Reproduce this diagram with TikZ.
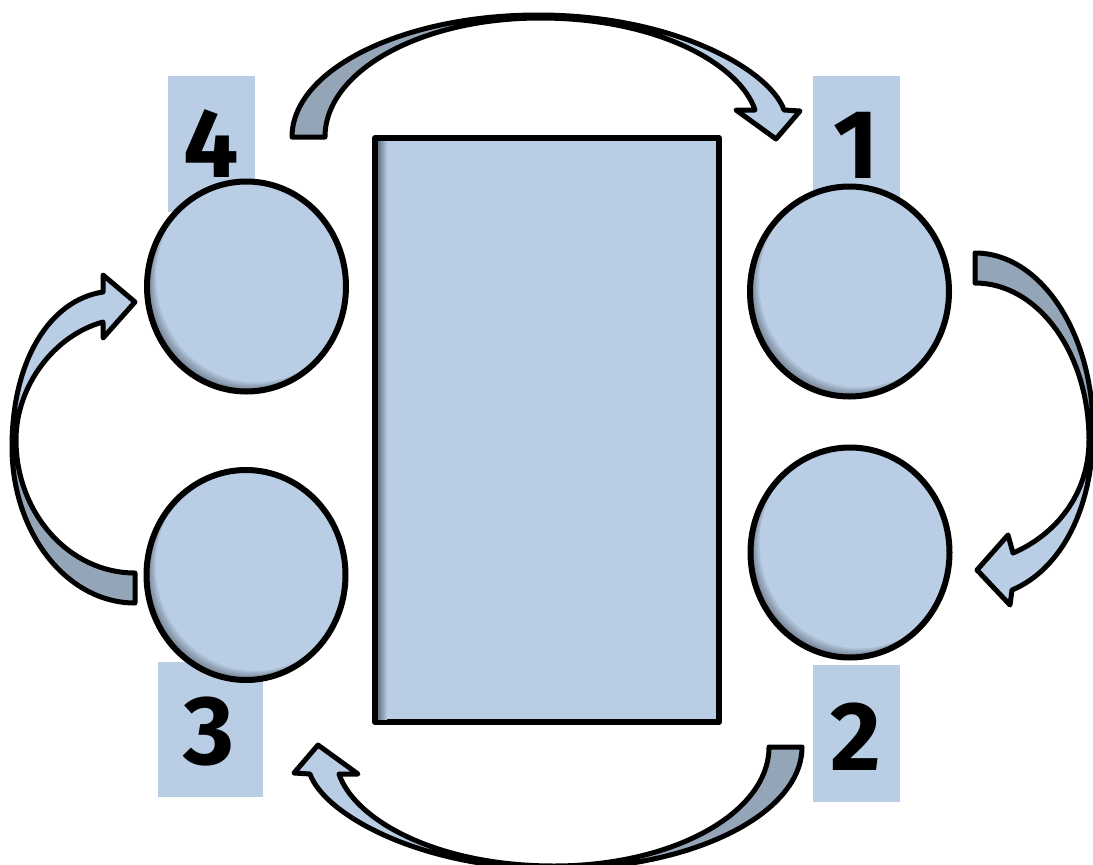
\documentclass[tikz,border=0pt]{standalone}
\usepackage{fontspec}
\setmainfont{Fira Sans}
\usetikzlibrary{shapes.geometric}

\definecolor{seatblue}{RGB}{185,205,229}
\definecolor{bandgrey}{RGB}{149,165,184}

\begin{document}
\begin{tikzpicture}[
    x=1pt,y=-1pt,
    line join=round,
    seat/.style={ellipse,draw,line width=6pt,fill=seatblue,
        minimum width=199pt,minimum height=210pt,inner sep=0pt},
    numbox/.style={fill=seatblue,inner sep=0pt,
        minimum width=87pt,minimum height=136pt},
    num/.style={font=\fontsize{98}{98}\selectfont\bfseries,inner sep=0pt},
    band/.style={draw,line width=5pt},
]
    \useasboundingbox (0,0) rectangle (1093,865);

    % tags behind the seats
    \node[numbox] (b4) at (211.5,144) {};
    \node[numbox] (b1) at (856.5,144) {};
    \node[numbox,minimum width=105pt,minimum height=135pt] (b3) at (210.5,729.5) {};
    \node[numbox,minimum height=137pt] (b2) at (856.5,733.5) {};
    \foreach \n/\x/\y in {4/211/144,1/856/145,3/209/732,2/856/737}
        \node[num] (n\n) at (\x,\y) {\n};

    % table
    \node[draw,line width=6pt,fill=seatblue,outer sep=0pt,
        minimum width=344pt,minimum height=584pt] (table) at (547,430) {};
    \shade[left color=bandgrey!70!black,right color=seatblue]
        ([xshift=3pt,yshift=-3pt]table.north west)
        rectangle ([xshift=12pt,yshift=3pt]table.south west);

    % seats
    \node[seat] (s4) at (246.5,286.5) {};
    \node[seat] (s1) at (849.5,291.5) {};
    \node[seat] (s3) at (246,575) {};
    \node[seat] (s2) at (850,552.5) {};
    \foreach \s in {s1,s2,s3,s4}{
        \begin{scope}
            \clip (\s.center) ellipse [x radius=99.5pt,y radius=105pt];
            \foreach \k in {1,...,6}
                \fill[black,opacity=.07,even odd rule]
                    (\s.center) ellipse [x radius=99.5pt,y radius=105pt]
                    ([shift={(1.5*\k,-1.5*\k)}]\s.center)
                    ellipse [x radius=99.5pt,y radius=105pt];
        \end{scope}
    }

    % arrows over and under the table
    \foreach \turn in {0,180}{
        \begin{scope}[rotate around={\turn:(547,442)}]
            \fill[bandgrey] (292,137) .. controls (292,70) and (402,15) .. (538,15)
                -- (540,18) .. controls (421,18) and (325,71) .. (325,137) -- cycle;
            \fill[seatblue] (538,15) .. controls (674,15) and (770,70) .. (784,110)
                -- (800,111) -- (776,139) -- (736,110) -- (755,110)
                .. controls (740,65) and (659,18) .. (540,18) -- cycle;
            \path[band] (292,137) .. controls (292,70) and (402,15) .. (538,15)
                .. controls (674,15) and (770,70) .. (784,110)
                -- (800,111) -- (776,139) -- (736,110) -- (755,110)
                .. controls (740,65) and (659,18) .. (540,18)
                .. controls (421,18) and (325,71) .. (325,137) -- cycle;
        \end{scope}
    }

    % right arrow
    \fill[bandgrey] (975,253) .. controls (1040,253) and (1093,332) .. (1093,430)
        -- (1089,440) .. controls (1089,353) and (1038,283) .. (975,283) -- cycle;
    \fill[seatblue] (1093,430) .. controls (1093,510) and (1060,570) .. (1012,590)
        -- (1010,605) -- (977,570) -- (1008,535) -- (1013,553)
        .. controls (1055,535) and (1089,495) .. (1089,440) -- cycle;
    \path[band] (975,253) .. controls (1040,253) and (1093,332) .. (1093,430)
        .. controls (1093,510) and (1060,570) .. (1012,590)
        -- (1010,605) -- (977,570) -- (1008,535) -- (1013,553)
        .. controls (1055,535) and (1089,495) .. (1089,440)
        .. controls (1089,353) and (1038,283) .. (975,283) -- cycle;

    % left arrow
    \fill[bandgrey] (135,603) .. controls (67,603) and (12,533) .. (12,447)
        -- (16,440) .. controls (16,513) and (69,573) .. (135,573) -- cycle;
    \fill[seatblue] (12,447) .. controls (12,360) and (50,300) .. (103,292)
        -- (103,275) -- (135,302) -- (103,338) -- (103,322)
        .. controls (55,335) and (16,385) .. (16,440) -- cycle;
    \path[band] (135,603) .. controls (67,603) and (12,533) .. (12,447)
        .. controls (12,360) and (50,300) .. (103,292)
        -- (103,275) -- (135,302) -- (103,338) -- (103,322)
        .. controls (55,335) and (16,385) .. (16,440)
        .. controls (16,513) and (69,573) .. (135,573) -- cycle;
\end{tikzpicture}
\end{document}
